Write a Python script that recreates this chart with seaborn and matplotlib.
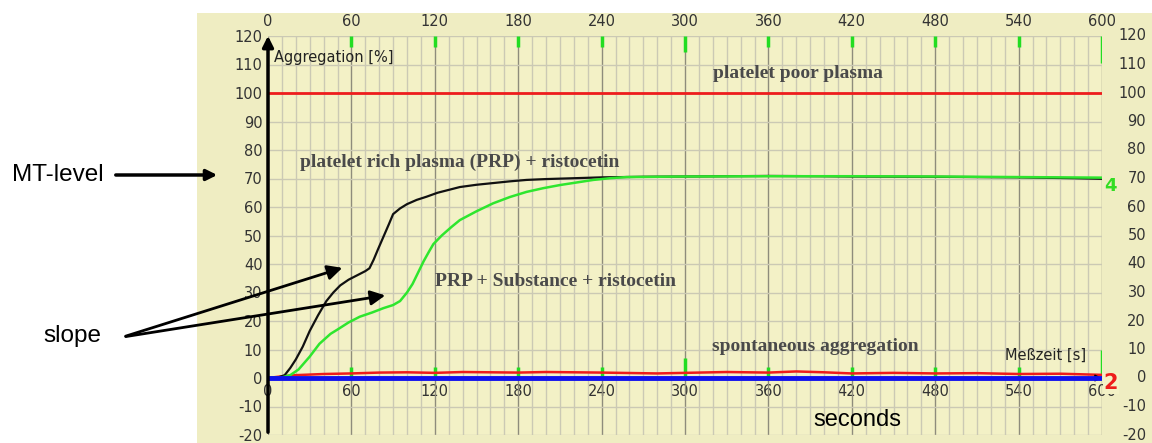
import matplotlib
matplotlib.use("Agg")
import matplotlib.pyplot as plt
from matplotlib.ticker import MultipleLocator
from matplotlib.patches import Rectangle
import pandas as pd
import seaborn as sns

# ---- data (time in s, aggregation in %) ----
prp_time = [0, 8, 12, 16, 20, 25, 30, 36, 42, 47, 52, 58, 64, 70, 73, 76, 79, 83, 87, 90,
            95, 100, 107, 114, 122, 130, 138, 150, 162, 174, 186, 200, 220, 240, 270,
            300, 360, 400, 420, 480, 540, 580, 600]
prp_aggr = [0, 0.3, 1, 3.5, 6.5, 11, 16.5, 22, 27, 30, 32.5, 34.5, 36, 37.5, 38.5, 41.5,
            45, 49.5, 54, 57.5, 59.5, 61, 62.5, 63.6, 65, 66, 67, 67.8, 68.4, 69, 69.5,
            69.8, 70.1, 70.4, 70.6, 70.7, 70.9, 70.8, 70.7, 70.6, 70.4, 70.1, 69.9]

subst_time = [0, 10, 16, 22, 30, 37, 45, 50, 58, 66, 75, 83, 90, 95, 100, 104, 108, 112,
              116, 119, 125, 132, 138, 150, 162, 174, 186, 198, 210, 222, 234, 246, 258,
              300, 360, 420, 480, 540, 600]
subst_aggr = [0, 0.2, 1, 3, 7.5, 12, 15.5, 17, 19.5, 21.5, 23, 24.5, 25.6, 27, 30, 33, 37,
              41, 44.5, 47, 50, 53, 55.4, 58.5, 61.3, 63.5, 65.3, 66.6, 67.7, 68.6, 69.5,
              70.1, 70.5, 70.7, 70.8, 70.8, 70.7, 70.5, 70.3]

spont_time = [0, 10, 20, 40, 60, 80, 100, 120, 140, 160, 180, 200, 240, 280, 300, 330,
              360, 380, 400, 420, 450, 480, 510, 540, 570, 600]
spont_aggr = [0, 0.6, 1.0, 1.4, 1.6, 1.9, 2.0, 1.8, 2.1, 2.0, 1.9, 2.1, 1.9, 1.6, 1.8,
              2.1, 1.9, 2.3, 2.0, 1.6, 1.8, 1.6, 1.7, 1.4, 1.5, 1.1]

ppp_time = [0, 600]
ppp_aggr = [100, 100]
base_time = [0, 600]
base_aggr = [0, 0]

x_ticks = list(range(0, 601, 60))
y_ticks = list(range(-20, 121, 10))
mark_times = [60, 120, 180, 240, 300, 360, 420, 480, 540, 600]
top_mark_len = [4, 4, 4, 4, 5.5, 4, 4, 4, 4, 9.5]
bottom_mark_len = [4, 4, 4, 4, 7, 4, 4, 4, 4, 10]

curve_labels = ["platelet poor plasma", "platelet rich plasma (PRP) + ristocetin",
                "PRP + Substance + ristocetin", "spontaneous aggregation"]
curve_label_pos = [(381, 107), (138, 75.5), (207, 33.7), (394, 10.9)]

panel_col = "#efedc2"
plot_col = "#f3f1c6"
label_col = "#4a4a4a"

W, H = 1152, 443


def fig_xy(px, py):
    # pixel position of the reference picture -> figure fraction
    return px / W, 1 - py / H


sns.set_theme(style="white")
plt.rcParams["font.family"] = ["DejaVu Sans"]

fig = plt.figure(figsize=(11.52, 4.43), dpi=100)
fig.patches.append(Rectangle(fig_xy(197, 443), 1, 1 - 13 / H, transform=fig.transFigure,
                             facecolor=panel_col, edgecolor="none", zorder=-10))
ax = fig.add_axes([268 / W, 8 / H, 834 / W, 399 / H])
ax.set_facecolor(plot_col)
ax.set_zorder(1)

# curves
sns.lineplot(x=base_time, y=base_aggr, ax=ax, color="#1010ee", lw=3.5, zorder=4)
sns.lineplot(x=spont_time, y=spont_aggr, ax=ax, color="#ee1c1c", lw=1.8, zorder=3)
sns.lineplot(x=ppp_time, y=ppp_aggr, ax=ax, color="#ee1c1c", lw=2, zorder=3)
sns.lineplot(x=prp_time, y=prp_aggr, ax=ax, color="#111111", lw=1.6, zorder=3)
sns.lineplot(x=subst_time, y=subst_aggr, ax=ax, color="#2ee62e", lw=1.8, zorder=3)

# green marker ticks on top and along the baseline
ax.vlines(mark_times, [120 - l for l in top_mark_len], 120, color="#22dd22", lw=2.5, zorder=5)
ax.vlines(mark_times, 0, bottom_mark_len, color="#22dd22", lw=2.5, zorder=2)

ax.set_xlim(0, 600)
ax.set_ylim(-20, 120)

# grid
ax.xaxis.set_minor_locator(MultipleLocator(10))
ax.grid(which="minor", axis="x", color="#cbc9b4", lw=1)
ax.grid(which="major", axis="x", color="#8e8c7c", lw=1)
ax.grid(which="major", axis="y", color="#cbc9b4", lw=1)
ax.set_axisbelow(True)
for s in ax.spines.values():
    s.set_visible(False)

# top time labels
ax.xaxis.tick_top()
ax.set_xticks(x_ticks)
ax.set_xticklabels([str(t) for t in x_ticks])
ax.tick_params(axis="x", which="both", length=0, pad=5, labelsize=10.5, labelcolor="#333333")
ax.set_yticks(y_ticks)
ax.set_yticklabels([str(v) for v in y_ticks])
ax.tick_params(axis="y", length=0, pad=4, labelsize=10.5, labelcolor="#333333")

# time labels along the zero line
sec = ax.secondary_xaxis(20 / 140)
sec.xaxis.set_ticks_position("bottom")
sec.set_xticks(x_ticks)
sec.set_xticklabels([str(t) for t in x_ticks])
sec.tick_params(length=0, pad=4, labelsize=10.5, labelcolor="#333333")
for s in sec.spines.values():
    s.set_visible(False)

# right side labels, right aligned next to the plot
ytrans = ax.get_yaxis_transform()
for v in y_ticks:
    ax.text(1.0528, v, str(v), transform=ytrans, ha="right", va="center",
            fontsize=10.5, color="#333333", clip_on=False)

# axis arrows
ax.annotate("", xy=(602, 0), xytext=(0, 0), annotation_clip=False,
            arrowprops=dict(arrowstyle="-|>", color="black", lw=1, mutation_scale=10), zorder=3)
ax.annotate("", xy=(0, 121), xytext=(0, -20), annotation_clip=False,
            arrowprops=dict(arrowstyle="-|>", color="black", lw=2.5, mutation_scale=16), zorder=6)

ax.text(4, 112.5, "Aggregation [%]", fontsize=10.5, color="#222222", va="center")
ax.text(530, 8, "Meßzeit [s]", fontsize=10.5, color="#222222", va="center")

for lab, (tx, ty) in zip(curve_labels, curve_label_pos):
    ax.text(tx, ty, lab, ha="center", va="center", fontsize=14, fontweight="bold",
            family="Liberation Serif", color=label_col)

ax.text(601.5, 67.5, "4", fontsize=13, fontweight="bold", color="#33dd22", va="center",
        ha="left", clip_on=False)
ax.text(601, -1.8, "2", fontsize=15, fontweight="bold", color="#ee1c1c", va="center",
        ha="left", clip_on=False,
        bbox=dict(facecolor=plot_col, edgecolor="none", pad=0.5))

# annotations outside the chart
ax.text(424, -14.7, "seconds", fontsize=17, family="Liberation Sans", color="black",
        ha="center", va="center")
fig.text(*fig_xy(58, 175), "MT-level", fontsize=17.5, family="Liberation Sans",
         color="black", ha="center", va="center")
fig.text(*fig_xy(72, 336), "slope", fontsize=17.5, family="Liberation Sans",
         color="black", ha="center", va="center")
fig.add_artist(plt.Annotation("", xy=fig_xy(220, 175), xytext=fig_xy(113, 175),
                              xycoords="figure fraction", textcoords="figure fraction",
                              arrowprops=dict(arrowstyle="-|>", color="black", lw=2.5,
                                              mutation_scale=16)))
for tip in [(345, 267), (388, 295)]:
    fig.add_artist(plt.Annotation("", xy=fig_xy(*tip), xytext=fig_xy(123, 337),
                                  xycoords="figure fraction", textcoords="figure fraction",
                                  arrowprops=dict(arrowstyle="-|>", color="black", lw=2,
                                                  mutation_scale=22), zorder=10))

fig.savefig("out.png", dpi=100)
